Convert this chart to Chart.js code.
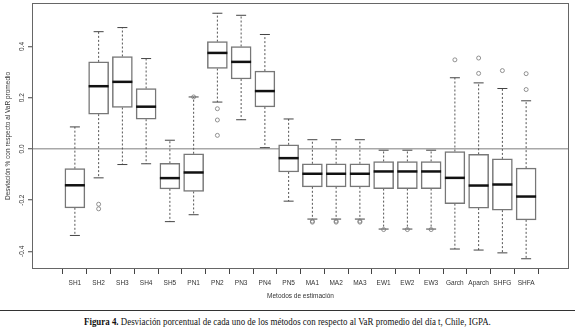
<!DOCTYPE html>
<html>
<head>
<meta charset="utf-8">
<script src="https://cdn.jsdelivr.net/npm/chart.js@4.4.1/dist/chart.umd.min.js"></script>
<style>
  html, body { margin: 0; padding: 0; background: #fff; }
  #wrap { position: relative; width: 575px; height: 333px; overflow: hidden; }
  #chart { position: absolute; left: 0; top: 0; }
  #rule { position: absolute; left: 0; top: 310px; width: 575px; height: 0; border-top: 1.5px solid #333; }
  #caption { position: absolute; top: 316px; left: 0; width: 575px; text-align: center;
             font-family: 'Liberation Serif', serif; font-size: 10.5px; color: #111; white-space: nowrap; }
  #caption span { display: inline-block; transform-origin: center; }
</style>
</head>
<body>
<div id="wrap">
  <canvas id="chart" width="575" height="305"></canvas>
  <div id="rule"></div>
  <div id="caption"><span id="capText"><b>Figura 4.</b> Desviación porcentual de cada uno de los métodos con respecto al VaR promedio del día t, Chile, IGPA.</span></div>
</div>
<script>
// categories (metodos de estimacion)
const methods = ['SH1', 'SH2', 'SH3', 'SH4', 'SH5', 'PN1', 'PN2', 'PN3', 'PN4', 'PN5',
                 'MA1', 'MA2', 'MA3', 'EW1', 'EW2', 'EW3', 'Garch', 'Aparch', 'SHFG', 'SHFA'];

// box statistics
const whiskerLow  = [-0.338, -0.113, -0.061, -0.058, -0.284, -0.257, 0.183, 0.114, 0.005, -0.204,
                     -0.274, -0.274, -0.274, -0.313, -0.313, -0.313, -0.391, -0.395, -0.406, -0.429];
const quart1      = [-0.230, 0.136, 0.162, 0.116, -0.156, -0.166, 0.314, 0.273, 0.164, -0.090,
                     -0.148, -0.148, -0.148, -0.155, -0.155, -0.155, -0.214, -0.231, -0.239, -0.277];
const medians     = [-0.142, 0.245, 0.262, 0.165, -0.114, -0.092, 0.375, 0.340, 0.226, -0.036,
                     -0.097, -0.097, -0.097, -0.088, -0.088, -0.088, -0.113, -0.143, -0.139, -0.186];
const quart3      = [-0.077, 0.340, 0.361, 0.236, -0.056, -0.019, 0.419, 0.400, 0.304, 0.016,
                     -0.058, -0.058, -0.058, -0.049, -0.049, -0.049, -0.010, -0.021, -0.039, -0.075];
const whiskerHigh = [0.086, 0.458, 0.474, 0.353, 0.034, 0.203, 0.530, 0.522, 0.447, 0.117,
                     0.036, 0.036, 0.036, -0.005, -0.005, -0.005, 0.278, 0.258, 0.236, 0.188];

// outliers: [category index, value]
const outliers = [[1, -0.216], [1, -0.234], [5, 0.203],
                  [6, 0.157], [6, 0.113], [6, 0.053],
                  [10, -0.282], [10, -0.286], [11, -0.282], [11, -0.286], [12, -0.282], [12, -0.286],
                  [13, -0.315], [14, -0.315], [15, -0.315],
                  [16, 0.348], [17, 0.355], [17, 0.295], [18, 0.306], [19, 0.294], [19, 0.232]];

const yTicks = [-0.4, -0.2, 0.0, 0.2, 0.4];

const axisFont = { family: "'Liberation Sans', Arial, sans-serif", size: 6.5 };

// whiskers as broken line segments
const whiskerPts = [];
methods.forEach((m, i) => {
    whiskerPts.push({ x: i, y: quart3[i] }, { x: i, y: whiskerHigh[i] }, { x: i, y: null });
    whiskerPts.push({ x: i, y: quart1[i] }, { x: i, y: whiskerLow[i] }, { x: i, y: null });
});
const capPts = [];
methods.forEach((m, i) => {
    capPts.push({ x: i, y: whiskerHigh[i] }, { x: i, y: whiskerLow[i] });
});

const framePlugin = {
    id: 'frame',
    afterDatasetsDraw(chart) {
        const a = chart.chartArea;
        const ctx = chart.ctx;
        ctx.save();
        ctx.strokeStyle = '#666';
        ctx.lineWidth = 1;
        ctx.strokeRect(a.left + 0.5, a.top + 0.5, a.right - a.left - 1, a.bottom - a.top - 1);
        ctx.restore();
    }
};

new Chart(document.getElementById('chart'), {
    type: 'bar',
    data: {
        datasets: [
            {
                type: 'line',
                data: whiskerPts,
                borderColor: '#555',
                borderWidth: 1,
                borderDash: [2, 2],
                pointRadius: 0,
                spanGaps: false,
                order: 3
            },
            {
                label: 'box',
                data: methods.map((m, i) => ({ x: i, y: [quart1[i], quart3[i]] })),
                backgroundColor: '#fff',
                borderColor: '#777',
                borderWidth: 1.5,
                borderSkipped: false,
                barThickness: 20,
                order: 2
            },
            {
                type: 'scatter',
                data: capPts,
                pointStyle: 'line',
                pointRadius: 5,
                borderColor: '#444',
                borderWidth: 1,
                order: 1
            },
            {
                type: 'scatter',
                data: methods.map((m, i) => ({ x: i, y: medians[i] })),
                pointStyle: 'line',
                pointRadius: 10,
                borderColor: '#111',
                borderWidth: 2.5,
                order: 0
            },
            {
                type: 'scatter',
                data: outliers.map(o => ({ x: o[0], y: o[1] })),
                pointStyle: 'circle',
                pointRadius: 2,
                borderColor: '#777',
                borderWidth: 0.8,
                backgroundColor: 'rgba(0,0,0,0)',
                order: 0
            }
        ]
    },
    options: {
        responsive: false,
        devicePixelRatio: 1,
        animation: false,
        layout: { autoPadding: false, padding: { top: 3, right: 6, left: 0, bottom: 0 } },
        plugins: { legend: { display: false }, tooltip: { enabled: false } },
        scales: {
            x: {
                type: 'linear',
                min: -1.24,
                max: 20.24,
                afterFit: s => { s.height = 36; s.paddingLeft = 0; s.paddingRight = 0; },
                afterBuildTicks: s => { s.ticks = methods.map((m, i) => ({ value: i })); },
                border: { display: false },
                grid: { drawOnChartArea: false, color: '#444', tickLength: 5, tickWidth: 1 },
                ticks: {
                    autoSkip: false, maxRotation: 0, minRotation: 0,
                    padding: 5, color: '#333', font: axisFont,
                    callback: v => methods[v]
                },
                title: {
                    display: true, text: 'Metodos de estimación', color: '#333',
                    font: axisFont, padding: { top: 0, bottom: 5 }
                }
            },
            y: {
                min: -0.469,
                max: 0.570,
                afterFit: s => { s.width = 32; s.paddingTop = 0; s.paddingBottom = 0; },
                afterBuildTicks: s => { s.ticks = yTicks.map(v => ({ value: v })); },
                border: { display: false },
                grid: {
                    color: c => (c.tick && c.tick.value === 0) ? '#a8a8a8' : 'rgba(0,0,0,0)',
                    lineWidth: 1.5,
                    tickColor: '#444', tickWidth: 1, tickLength: 4
                },
                ticks: {
                    minRotation: 90, maxRotation: 90, crossAlign: 'center',
                    padding: 0, color: '#333', font: axisFont,
                    callback: v => v.toFixed(1)
                },
                title: {
                    display: true, text: 'Desviación % con respecto al VaR promedio', color: '#333',
                    font: axisFont, padding: { top: 4, bottom: 0 }
                }
            }
        }
    },
    plugins: [framePlugin]
});

// squeeze caption to the width of the printed one
const cap = document.getElementById('capText');
const w = cap.getBoundingClientRect().width;
cap.style.transform = 'scaleX(' + (407 / w).toFixed(3) + ')';
</script>
</body>
</html>
